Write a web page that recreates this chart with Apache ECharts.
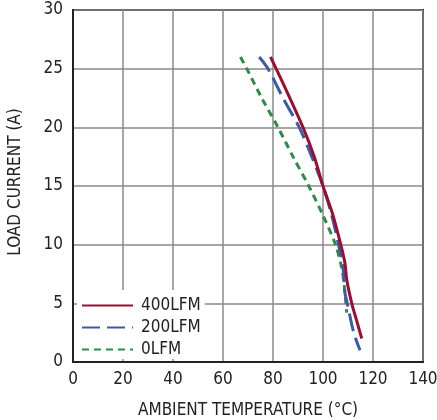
<!DOCTYPE html>
<html><head><meta charset="utf-8">
<script src="https://cdn.jsdelivr.net/npm/echarts@6/dist/echarts.min.js"></script>
<style>html,body{margin:0;padding:0;background:#fff}#c{width:437px;height:420px}</style>
</head><body><div id="c"></div>
<script>
var xTicks = [0,20,40,60,80,100,120,140];
var yTicks = [0,5,10,15,20,25,30];
var seriesNames = ['400LFM','200LFM','0LFM'];
var lfm400 = [[79,26],[85,23.3],[92,20],[96.5,17.5],[100,15],[104,12.5],[107.1,10],[108.8,8.4],[109.5,7],[111.5,5],[113.5,3.5],[115.5,2]];
var lfm200 = [[74.5,26],[78,25],[84,22.5],[90.5,20],[95.5,17.5],[100,15],[103.5,12.5],[106.2,10],[108,8],[108.7,6],[109.7,5],[112.3,2.5],[114.8,1]];
var lfm0 = [[67,26],[69.5,25],[75.5,22.5],[82,20],[88,17.5],[94.3,15],[100,12.5],[105,10],[107.5,8],[108.5,6.5],[109.5,4.2]];

var font = "'Liberation Sans Narrow','DejaVu Sans Condensed',sans-serif";
var chart = echarts.init(document.getElementById('c'));
chart.setOption({
  animation: false,
  backgroundColor: '#fff',
  grid: {left: 73, top: 10, width: 350, height: 352, show: true, borderColor: '#222', borderWidth: 2,
         containLabel: false, outerBoundsMode: 'none'},
  xAxis: {
    type: 'value', min: xTicks[0], max: xTicks[xTicks.length-1], interval: 20,
    name: 'AMBIENT TEMPERATURE (°C)', nameLocation: 'middle', nameGap: 40,
    nameTextStyle: {fontFamily: font, fontSize: 17, color: '#222'},
    axisLine: {show: true, lineStyle: {color: '#222', width: 2}},
    axisTick: {show: false},
    axisLabel: {fontFamily: font, fontSize: 17, color: '#222', margin: 9},
    splitLine: {show: true, lineStyle: {color: '#8a8a8a', width: 1.5}}
  },
  yAxis: {
    type: 'value', min: yTicks[0], max: yTicks[yTicks.length-1], interval: 5,
    name: 'LOAD CURRENT (A)', nameLocation: 'middle', nameGap: 49,
    nameTextStyle: {fontFamily: font, fontSize: 17, color: '#222', padding: [0,0,0,8]},
    axisLine: {show: true, lineStyle: {color: '#222', width: 2}},
    axisTick: {show: false},
    axisLabel: {fontFamily: font, fontSize: 17, color: '#222', margin: 10},
    splitLine: {show: true, lineStyle: {color: '#8a8a8a', width: 1.5}}
  },
  legend: {
    orient: 'vertical', left: 77, top: 290, backgroundColor: '#fff',
    padding: [7, 4, 1, 4], itemGap: 5, itemWidth: 51, itemHeight: 14,
    itemStyle: {opacity: 0},
    textStyle: {fontFamily: font, fontSize: 17, color: '#222', padding: [0,0,0,3]},
    data: seriesNames
  },
  series: [
    {name: seriesNames[0], type: 'line', data: lfm400, smooth: 0.3, showSymbol: false, symbol: 'none',
     lineStyle: {color: '#9c0d30', width: 3}, itemStyle: {color: '#9c0d30'}, z: 5},
    {name: seriesNames[1], type: 'line', data: lfm200, smooth: 0.3, showSymbol: false, symbol: 'none',
     lineStyle: {color: '#3b5aa8', width: 3, type: [18, 7]}, itemStyle: {color: '#3b5aa8'}, z: 4},
    {name: seriesNames[2], type: 'line', data: lfm0, smooth: 0.3, showSymbol: false, symbol: 'none',
     lineStyle: {color: '#2e8b4a', width: 3, type: [7, 5]}, itemStyle: {color: '#2e8b4a'}, z: 3}
  ]
});
</script></body></html>
